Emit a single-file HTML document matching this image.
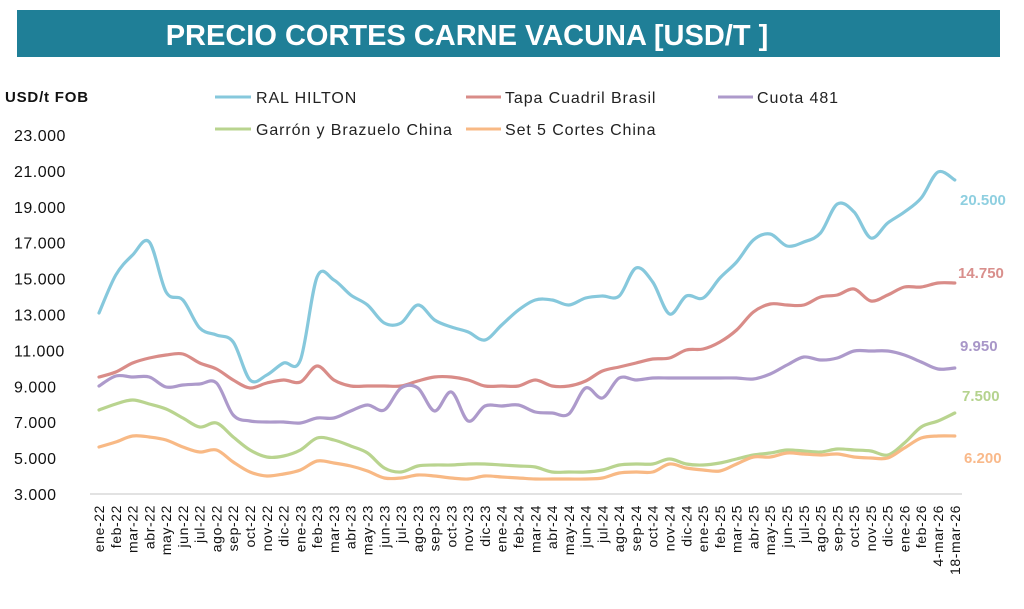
<!DOCTYPE html>
<html><head><meta charset="utf-8"><style>
body{margin:0;background:#fff;width:1024px;height:604px;overflow:hidden;font-family:"Liberation Sans",sans-serif}
</style></head><body>
<svg id="s" width="1024" height="604" xmlns="http://www.w3.org/2000/svg" font-family="Liberation Sans, sans-serif">
<rect x="17" y="10" width="983" height="47" fill="#1f7f97"/>
<text x="467" y="45" font-size="29" font-weight="bold" fill="#fff" text-anchor="middle">PRECIO CORTES CARNE VACUNA [USD/T ]</text>
<text x="5" y="102" font-size="15" font-weight="bold" fill="#111" letter-spacing="0.8">USD/t FOB</text>
<g font-size="16" fill="#222" letter-spacing="0.9">
<line x1="215" y1="97" x2="251" y2="97" stroke="#86c8dc" stroke-width="3"/><text x="256" y="103">RAL HILTON</text>
<line x1="466" y1="97" x2="501" y2="97" stroke="#d98c88" stroke-width="3"/><text x="505" y="103">Tapa Cuadril Brasil</text>
<line x1="718" y1="97" x2="753" y2="97" stroke="#ad9acb" stroke-width="3"/><text x="757" y="103">Cuota 481</text>
<line x1="215" y1="129" x2="251" y2="129" stroke="#b9d48f" stroke-width="3"/><text x="256" y="135">Garrón y Brazuelo China</text>
<line x1="466" y1="129" x2="501" y2="129" stroke="#f8b985" stroke-width="3"/><text x="505" y="135">Set 5 Cortes China</text>
</g>
<g id="yl" font-size="16" fill="#111" letter-spacing="0.5"></g>
<line x1="90" y1="494" x2="962" y2="494" stroke="#d9d9d9" stroke-width="1.5"/>
<g id="xl" font-size="14" fill="#111" letter-spacing="0.6"></g>
<g id="ln" fill="none" stroke-width="3.2" stroke-linecap="round" stroke-linejoin="round"></g>
<g font-size="15" font-weight="bold">
<text x="960" y="205" fill="#8ecfe0">20.500</text>
<text x="958" y="278" fill="#d98f8c">14.750</text>
<text x="960" y="351" fill="#a896c8">9.950</text>
<text x="962" y="401" fill="#b5d38e">7.500</text>
<text x="964" y="463" fill="#f9b98a">6.200</text>
</g>
</svg>
<script>
var NS="http://www.w3.org/2000/svg";
function X(i){return 99+16.78*i;}
var yl=document.getElementById('yl');
var vals=["23.000","21.000","19.000","17.000","15.000","13.000","11.000","9.000","7.000","5.000","3.000"];
for(var k=0;k<11;k++){var t=document.createElementNS(NS,'text');t.setAttribute('x',14);t.setAttribute('y',135+k*35.9+6);t.textContent=vals[k];yl.appendChild(t);}
var m=["ene","feb","mar","abr","may","jun","jul","ago","sep","oct","nov","dic"];
var labs=[];for(var y=22;y<=26;y++)for(var j=0;j<12;j++){if(y==26&&j>1)break;labs.push(m[j]+"-"+y);}
labs.push("4-mar-26","18-mar-26");
var xl=document.getElementById('xl');
labs.forEach(function(l,i){var t=document.createElementNS(NS,'text');var x=X(i)+5;t.setAttribute('transform','translate('+x+',505) rotate(-90)');t.setAttribute('text-anchor','end');t.textContent=l;xl.appendChild(t);});
var S={
"#86c8dc":[[0,313],[1,275],[2,255],[3,242],[4,292],[5,300],[6,328],[7,335],[8,342],[9,380],[10,375],[11,363],[12,360],[13,277],[14,280],[15,295],[16,305],[17,323],[18,323],[19,305],[20,320],[21,327],[22,332],[23,340],[24,325],[25,310],[26,300],[27,300],[28,305],[29,298],[30,296],[31,296],[32,268],[33,282],[34,314],[35,296],[36,298],[37,278],[38,262],[39,240],[40,234],[41,246],[42,242],[43,233],[44,204],[45,212],[46,238],[47,223],[48,212],[49,198],[50,172],[51,180]],
"#d98c88":[[0,377],[1,372],[2,363],[3,358],[4,355],[5,354],[6,363],[7,369],[8,380],[9,388],[10,383],[11,380],[12,382],[13,366],[14,380],[15,386],[16,386],[17,386],[18,386],[19,381],[20,377],[21,377],[22,380],[23,386],[24,386],[25,386],[26,380],[27,386],[28,386],[29,381],[30,371],[31,367],[32,363],[33,359],[34,358],[35,350],[36,349],[37,342],[38,330],[39,312],[40,304],[41,305],[42,305],[43,297],[44,295],[45,289],[46,301],[47,295],[48,287],[49,287],[50,283],[51,283]],
"#ad9acb":[[0,386],[1,376],[2,377],[3,377],[4,387],[5,385],[6,384],[7,383],[8,415],[9,421],[10,422],[11,422],[12,423],[13,418],[14,418],[15,411],[16,405],[17,410],[18,388],[19,388],[20,411],[21,392],[22,421],[23,406],[24,406],[25,405],[26,412],[27,413],[28,414],[29,388],[30,398],[31,378],[32,380],[33,378],[34,378],[35,378],[36,378],[37,378],[38,378],[39,379],[40,374],[41,365],[42,357],[43,360],[44,358],[45,351],[46,351],[47,351],[48,355],[49,362],[50,369],[51,368]],
"#b9d48f":[[0,410],[1,404],[2,400],[3,404],[4,409],[5,418],[6,427],[7,423],[8,437],[9,450],[10,457],[11,456],[12,450],[13,438],[14,440],[15,446],[16,453],[17,468],[18,472],[19,466],[20,465],[21,465],[22,464],[23,464],[24,465],[25,466],[26,467],[27,472],[28,472],[29,472],[30,470],[31,465],[32,464],[33,464],[34,459],[35,464],[36,465],[37,463],[38,459],[39,455],[40,453],[41,450],[42,451],[43,452],[44,449],[45,450],[46,451],[47,455],[48,443],[49,427],[50,421],[51,413]],
"#f8b985":[[0,447],[1,442],[2,436],[3,437],[4,440],[5,447],[6,452],[7,450],[8,462],[9,472],[10,476],[11,474],[12,470],[13,461],[14,463],[15,466],[16,471],[17,478],[18,478],[19,475],[20,476],[21,478],[22,479],[23,476],[24,477],[25,478],[26,479],[27,479],[28,479],[29,479],[30,478],[31,473],[32,472],[33,472],[34,464],[35,468],[36,470],[37,471],[38,464],[39,457],[40,457],[41,453],[42,454],[43,455],[44,454],[45,457],[46,458],[47,458],[48,448],[49,438],[50,436],[51,436]]
};
var ln=document.getElementById('ln');
for(var c in S){var p=S[c].map(function(a){return [X(a[0]),a[1]];});
var d="M"+p[0][0].toFixed(1)+","+p[0][1];
for(var i=0;i<p.length-1;i++){var p0=p[i-1]||p[i],p1=p[i],p2=p[i+1],p3=p[i+2]||p2;
var c1x=p1[0]+(p2[0]-p0[0])/6,c1y=p1[1]+(p2[1]-p0[1])/6,c2x=p2[0]-(p3[0]-p1[0])/6,c2y=p2[1]-(p3[1]-p1[1])/6;
d+=" C"+c1x.toFixed(1)+","+c1y.toFixed(1)+" "+c2x.toFixed(1)+","+c2y.toFixed(1)+" "+p2[0].toFixed(1)+","+p2[1];}
var e=document.createElementNS(NS,'path');e.setAttribute('d',d);e.setAttribute('stroke',c);ln.appendChild(e);}
</script>
</body></html>
